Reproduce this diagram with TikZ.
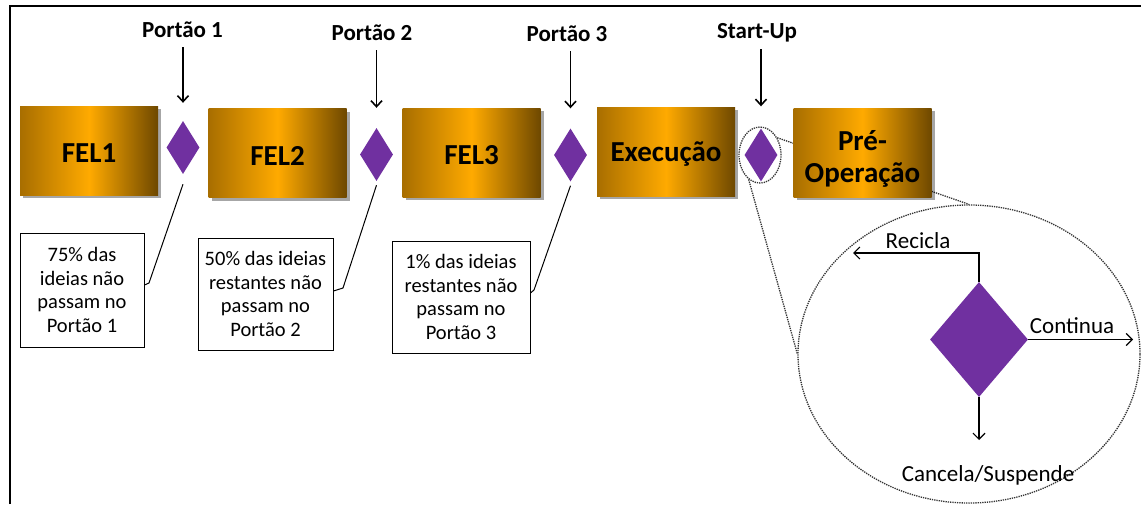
\documentclass[tikz,border=0pt]{standalone}
\usepackage{fontspec}
\setmainfont{Carlito}
\usetikzlibrary{shapes.geometric,arrows.meta,shadows}
\definecolor{gatepurple}{HTML}{7030A0}
\definecolor{goldL}{HTML}{A86E00}
\definecolor{goldM}{HTML}{FFAA00}
\definecolor{goldR}{HTML}{6E4800}
\begin{document}
\begin{tikzpicture}[x=1pt,y=-1pt,
  phase/.style={draw=none, minimum width=138pt, minimum height=89pt, inner sep=0pt,
    left color=goldL, right color=goldR, middle color=goldM,
    font=\bfseries\fontsize{29}{33}\selectfont, align=center,
    drop shadow={shadow xshift=3pt,shadow yshift=-3pt,opacity=0.35,fill=black}},
  phasetext/.style={font=\bfseries\fontsize{29}{32}\selectfont, align=center, inner sep=0pt},
  gate/.style={diamond, fill=gatepurple, draw=none, inner sep=0pt, minimum width=33pt, minimum height=53pt},
  gatelabel/.style={font=\bfseries\fontsize{23}{26}\selectfont, inner sep=0pt, anchor=base},
  gatearrow/.style={line width=1.6pt, -{Straight Barb[length=6pt,width=11pt]}},
  notebox/.style={draw, line width=1pt, align=center, inner sep=0pt, font=\fontsize{20.5}{23.5}\selectfont},
  leader/.style={line width=1pt},
  zoomline/.style={densely dotted, line width=1.3pt, draw=black!80},
  inarrow/.style={line width=1.2pt, -{Straight Barb[length=6pt,width=12pt]}},
  inlabel/.style={font=\fontsize{23}{26}\selectfont, inner sep=0pt, anchor=base},
]
\useasboundingbox (0,0) rectangle (1141,504);
\draw[line width=2pt] (10,504) -- (10,6) -- (1141,6);

% zoom ellipses
\node[ellipse, zoomline, minimum width=42pt, minimum height=56pt, inner sep=0pt] (se) at (760,155) {};
\node[ellipse, zoomline, minimum width=342pt, minimum height=298pt, inner sep=0pt] (be) at (969,354) {};
\draw[zoomline] (se.45) -- (be.north);
\draw[zoomline] (se.245) -- (be.west);

% phases
\node[phase] (f1) at (89,150.5) {};
\node[phase] (f2) at (277.5,153) {};
\node[phase] (f3) at (471.5,152.5) {};
\node[phase] (ex) at (666,151.5) {};
\node[phase] (po) at (862.5,152.5) {};
\node[phasetext] (t1) at ([yshift=-3pt]f1.center) {FEL1};
\node[phasetext] (t2) at ([yshift=-3pt]f2.center) {FEL2};
\node[phasetext] (t3) at ([yshift=-3pt]f3.center) {FEL3};
\node[phasetext] (tx) at ([yshift=-3pt]ex.center) {Execução};
\node[phasetext] (tp) at ([yshift=-6pt]po.center) {Pré-\\Operação};

% gates
\node[gate] (d1) at (183,147.5) {};
\node[gate] (d2) at (376.5,154.5) {};
\node[gate] (d3) at (570.5,155) {};
\node[gate] (d4) at (761,155) {};

% gate labels
\node[gatelabel] (p1) at (182.5,37) {Portão 1};
\node[gatelabel] (p2) at (372,40) {Portão 2};
\node[gatelabel] (p3) at (567,41) {Portão 3};
\node[gatelabel] (su) at (757,38) {Start-Up};

\draw[gatearrow] (p1.base -| d1.north) ++(0,10) -- ([yshift=18pt]d1.north);
\draw[gatearrow] (p2.base -| d2.north) ++(0,10) -- ([yshift=20pt]d2.north);
\draw[gatearrow] (p3.base -| d3.north) ++(0,10) -- ([yshift=20pt]d3.north);
\draw[gatearrow] (su.base -| d4.north) ++(0,11) -- ([yshift=22pt]d4.north);

% note boxes
\node[notebox, minimum width=124pt, minimum height=114pt] (b1) at (82,290) {75\% das\\ideias não\\passam no\\Portão 1};
\node[notebox, minimum width=135pt, minimum height=112pt] (b2) at (265.5,294) {50\% das ideias\\restantes não\\passam no\\Portão 2};
\node[notebox, minimum width=138pt, minimum height=112pt] (b3) at (461,297) {1\% das ideias\\restantes não\\passam no\\Portão 3};

\coordinate (k1) at (149,283);
\coordinate (k2) at (343,288);
\coordinate (k3) at (534,290);
\draw[leader] ([yshift=-10pt]d1.south) -- (k1) -- ([yshift=5pt]b1.east);
\draw[leader] ([yshift=-4pt]d2.south) -- (k2) -- ([yshift=3pt]b2.east);
\draw[leader] ([yshift=-4pt]d3.south) -- (k3) -- ([yshift=4pt]b3.east);

% zoomed gate
\node[gate, minimum width=98pt, minimum height=115pt] (bd) at (979,339.5) {};
\coordinate (rc) at (853,253);
\coordinate (ct) at (1133,339.5);
\coordinate (cs) at (979,440);
\draw[inarrow] (bd.north) |- (rc);
\draw[inarrow] (bd.east) -- (ct);
\draw[inarrow] (bd.south) -- (cs);
\node[inlabel] (lr) at (918,248) {Recicla};
\node[inlabel] (lc) at (1072,333) {Continua};
\node[inlabel] (lcs) at (988,481) {Cancela/Suspende};
\end{tikzpicture}
\end{document}
